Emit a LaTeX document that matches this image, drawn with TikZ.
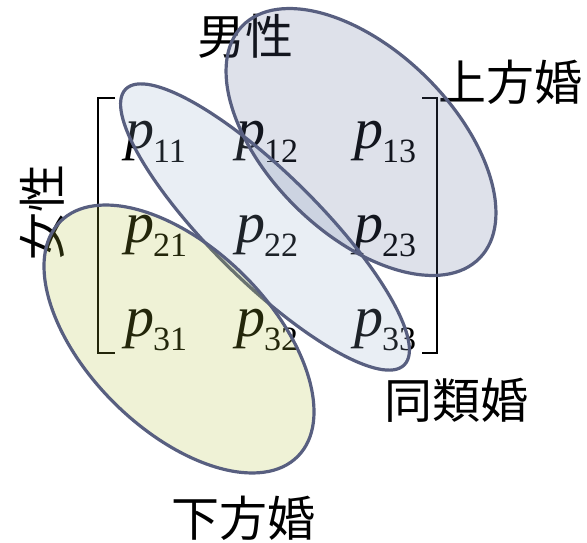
\documentclass[tikz,border=0pt]{standalone}
\usepackage{fontspec}
\setmainfont{Liberation Serif}
\newfontfamily\cjk{Noto Sans CJK JP}
\usetikzlibrary{shapes.geometric}
\definecolor{edgec}{RGB}{88,95,128}
\definecolor{maleC}{RGB}{90,105,150}
\definecolor{homoC}{RGB}{145,170,200}
\definecolor{femC}{RGB}{175,190,50}
\newcommand{\pij}[1]{{\fontsize{58}{58}\selectfont\itshape p}\kern-1pt\raisebox{-14pt}{\fontsize{34}{34}\selectfont #1}}
\tikzset{
  pent/.style={anchor=base west, inner sep=0pt},
  lab/.style={font=\cjk\fontsize{48}{48}\selectfont, inner sep=0pt},
  brk/.style={line width=2.5pt, black},
  ell/.style={ellipse, draw=edgec, line width=3.2pt, inner sep=0pt, fill opacity=0.2, draw opacity=1},
}
\begin{document}
\begin{tikzpicture}[x=1pt,y=1pt]
\useasboundingbox (0,0) rectangle (587,542);
% labels
\node[lab] (male) at (245,506) {男性};
\node[lab] (hyper) at (510,460) {上方婚};
\node[lab] (homo) at (456,142) {同類婚};
\node[lab] (hypo) at (243,24) {下方婚};
\node[lab, rotate=90] (female) at (42,329) {女性};
% matrix entries
\node[pent] (p11) at (125,393) {\pij{11}};
\node[pent] (p12) at (236,393) {\pij{12}};
\node[pent] (p13) at (354,393) {\pij{13}};
\node[pent] (p21) at (125,299) {\pij{21}};
\node[pent] (p22) at (236,299) {\pij{22}};
\node[pent] (p23) at (354,299) {\pij{23}};
\node[pent] (p31) at (125,206) {\pij{31}};
\node[pent] (p32) at (236,206) {\pij{32}};
\node[pent] (p33) at (354,206) {\pij{33}};
% brackets
\coordinate (lt) at (98,444);
\coordinate (lb) at (98,189);
\coordinate (rt) at (437,444);
\coordinate (rb) at (437,189);
\draw[brk] ([xshift=17pt]lt) -- (lt) -- (lb) -- ([xshift=17pt]lb);
\draw[brk] ([xshift=-15pt]rt) -- (rt) -- (rb) -- ([xshift=-15pt]rb);
% ellipses
\node[ell, fill=homoC, minimum width=392pt, minimum height=108pt, rotate=-44.7] (ehomo) at (265,315) {};
\node[ell, fill=maleC, minimum width=332pt, minimum height=184pt, rotate=-44.4] (emale) at (361,400) {};
\node[ell, fill=femC, minimum width=334pt, minimum height=182pt, rotate=-44.6] (efem) at (179,203) {};
\end{tikzpicture}
\end{document}
